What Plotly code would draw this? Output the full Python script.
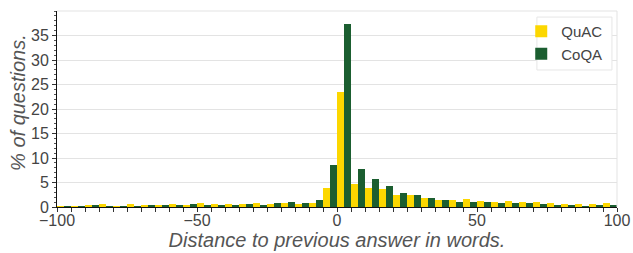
import plotly.graph_objects as go

bin_centers = [-97.5 + 5 * i for i in range(40)]

quac = [0.2, 0.2, 0.4, 0.6, 0.2, 0.6, 0.4, 0.4, 0.6, 0.4,
        0.8, 0.6, 0.6, 0.6, 0.8, 0.6, 0.8, 0.6, 0.8, 3.8,
        23.5, 4.7, 3.9, 3.7, 2.4, 2.4, 1.8, 1.4, 1.4, 1.6,
        1.2, 1.0, 1.2, 1.0, 1.0, 0.8, 0.6, 0.6, 0.6, 0.8]
coqa = [0.2, 0.2, 0.4, 0.2, 0.2, 0.2, 0.4, 0.4, 0.4, 0.6,
        0.4, 0.4, 0.4, 0.6, 0.4, 0.8, 1.0, 0.8, 1.4, 8.6,
        37.3, 7.8, 5.7, 4.3, 2.9, 2.4, 1.8, 1.4, 1.0, 1.0,
        1.0, 0.8, 0.8, 0.8, 0.6, 0.4, 0.4, 0.2, 0.4, 0.4]

fig = go.Figure()
fig.add_trace(go.Bar(x=bin_centers, y=quac, name="QuAC", marker_color="#FCD700", marker_line_width=0))
fig.add_trace(go.Bar(x=bin_centers, y=coqa, name="CoQA", marker_color="#1B5E30", marker_line_width=0))

font_family = "Liberation Sans, Arial, sans-serif"
fig.update_layout(
    width=633, height=253,
    margin=dict(l=57, r=16, t=11, b=46, autoexpand=False),
    barmode="group", bargap=0, bargroupgap=0,
    plot_bgcolor="white", paper_bgcolor="white",
    font=dict(family=font_family, size=16, color="#444"),
    showlegend=True,
    legend=dict(x=0.829, y=0.98, xanchor="left", yanchor="top",
                bgcolor="rgba(0,0,0,0)", borderwidth=0,
                font=dict(size=15, color="#444"), itemwidth=30,
                tracegroupgap=0),
    xaxis=dict(range=[-100, 100], tickvals=[-100, -50, 0, 50, 100],
               ticks="outside", ticklen=4, tickcolor="#333", tickwidth=1,
               showline=True, linecolor="#111", linewidth=1,
               showgrid=False, zeroline=False, automargin=False,
               ticklabelstandoff=-5,
               minor=dict(dtick=5, tick0=0, ticks="outside", ticklen=4, tickcolor="#333", showgrid=False),
               tickfont=dict(size=16, color="#444"),
               title=dict(text="<i>Distance to previous answer in words.</i>", font=dict(size=20, color="#555"), standoff=4)),
    yaxis=dict(range=[0, 40], tickvals=[0, 5, 10, 15, 20, 25, 30, 35],
               ticks="outside", ticklen=4, tickcolor="#333", tickwidth=1,
               showline=True, linecolor="#111", linewidth=1,
               showgrid=True, gridcolor="#e3e3e3", zeroline=False, automargin=False,
               minor=dict(dtick=1, ticks="outside", ticklen=2, tickcolor="#555", showgrid=False),
               tickfont=dict(size=16, color="#444")),
)
fig.add_annotation(text="<i>% of questions.</i>", xref="paper", yref="paper",
                   x=-0.0696, y=0.531, xanchor="center", yanchor="middle",
                   textangle=-90, showarrow=False,
                   font=dict(size=20, color="#555", family=font_family))
fig.add_shape(type="line", xref="paper", yref="paper", x0=1, x1=1, y0=0, y1=1,
              line=dict(color="#e3e3e3", width=1))
fig.add_shape(type="line", xref="paper", yref="paper", x0=0, x1=1, y0=1, y1=1,
              line=dict(color="#e3e3e3", width=1))
fig.add_shape(type="rect", xref="paper", yref="paper", x0=0.857, x1=0.991, y0=0.699, y1=0.969,
              line=dict(color="#e6e6e6", width=1), fillcolor="white", layer="above")

fig.write_html("out.html", config={"displayModeBar": False},
               post_script="document.body.style.margin='0';document.body.style.overflow='hidden';")
